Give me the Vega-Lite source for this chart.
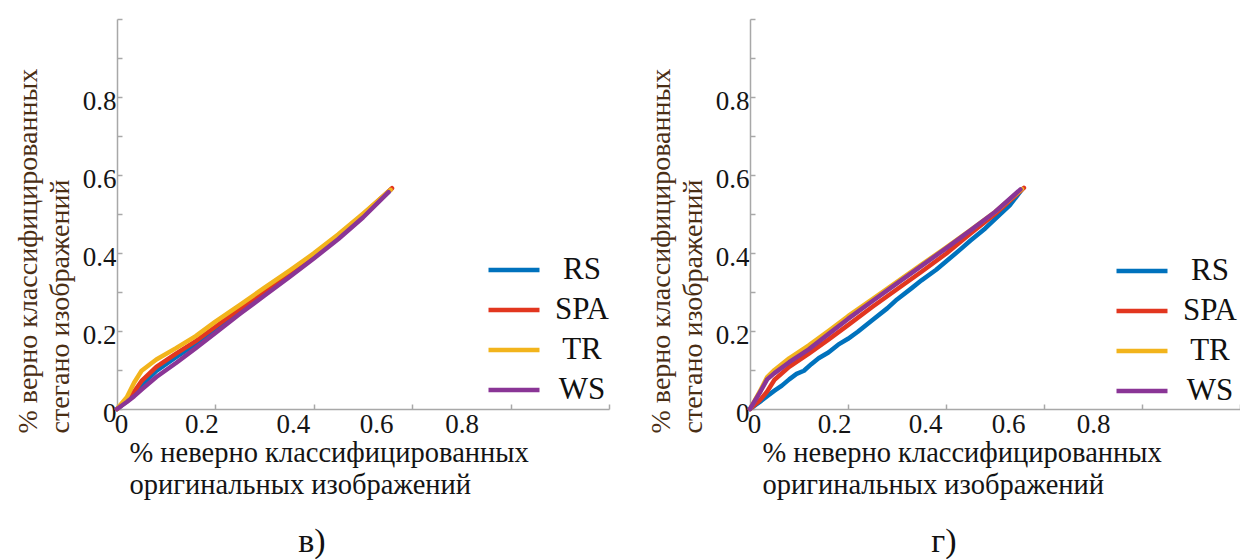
{
  "$schema": "https://vega.github.io/schema/vega-lite/v6.json",
  "background": "white",
  "padding": {"left": 13, "top": 18, "right": 0, "bottom": 0},
  "spacing": 36,
  "datasets": {
    "roc": [
      {"panel": "в", "method": "RS", "fpr": 0, "tpr": 0},
      {"panel": "в", "method": "RS", "fpr": 0.02, "tpr": 0.02},
      {"panel": "в", "method": "RS", "fpr": 0.035, "tpr": 0.04},
      {"panel": "в", "method": "RS", "fpr": 0.05, "tpr": 0.062},
      {"panel": "в", "method": "RS", "fpr": 0.08, "tpr": 0.098},
      {"panel": "в", "method": "RS", "fpr": 0.12, "tpr": 0.133},
      {"panel": "в", "method": "RS", "fpr": 0.16, "tpr": 0.167},
      {"panel": "в", "method": "RS", "fpr": 0.2, "tpr": 0.205},
      {"panel": "в", "method": "RS", "fpr": 0.25, "tpr": 0.252},
      {"panel": "в", "method": "RS", "fpr": 0.3, "tpr": 0.298},
      {"panel": "в", "method": "RS", "fpr": 0.35, "tpr": 0.344},
      {"panel": "в", "method": "RS", "fpr": 0.4, "tpr": 0.391},
      {"panel": "в", "method": "RS", "fpr": 0.45, "tpr": 0.441},
      {"panel": "в", "method": "RS", "fpr": 0.5, "tpr": 0.496},
      {"panel": "в", "method": "RS", "fpr": 0.556, "tpr": 0.562},

      {"panel": "в", "method": "SPA", "fpr": 0, "tpr": 0},
      {"panel": "в", "method": "SPA", "fpr": 0.02, "tpr": 0.022},
      {"panel": "в", "method": "SPA", "fpr": 0.035, "tpr": 0.045},
      {"panel": "в", "method": "SPA", "fpr": 0.05, "tpr": 0.072},
      {"panel": "в", "method": "SPA", "fpr": 0.08, "tpr": 0.108},
      {"panel": "в", "method": "SPA", "fpr": 0.12, "tpr": 0.142},
      {"panel": "в", "method": "SPA", "fpr": 0.16, "tpr": 0.174},
      {"panel": "в", "method": "SPA", "fpr": 0.2, "tpr": 0.211},
      {"panel": "в", "method": "SPA", "fpr": 0.25, "tpr": 0.257},
      {"panel": "в", "method": "SPA", "fpr": 0.3, "tpr": 0.302},
      {"panel": "в", "method": "SPA", "fpr": 0.35, "tpr": 0.347},
      {"panel": "в", "method": "SPA", "fpr": 0.4, "tpr": 0.393},
      {"panel": "в", "method": "SPA", "fpr": 0.45, "tpr": 0.444},
      {"panel": "в", "method": "SPA", "fpr": 0.5, "tpr": 0.498},
      {"panel": "в", "method": "SPA", "fpr": 0.559, "tpr": 0.566},

      {"panel": "в", "method": "TR", "fpr": 0, "tpr": 0},
      {"panel": "в", "method": "TR", "fpr": 0.02, "tpr": 0.03},
      {"panel": "в", "method": "TR", "fpr": 0.035, "tpr": 0.068},
      {"panel": "в", "method": "TR", "fpr": 0.05, "tpr": 0.098},
      {"panel": "в", "method": "TR", "fpr": 0.08, "tpr": 0.127},
      {"panel": "в", "method": "TR", "fpr": 0.12, "tpr": 0.156},
      {"panel": "в", "method": "TR", "fpr": 0.16, "tpr": 0.187},
      {"panel": "в", "method": "TR", "fpr": 0.2, "tpr": 0.224},
      {"panel": "в", "method": "TR", "fpr": 0.25, "tpr": 0.267},
      {"panel": "в", "method": "TR", "fpr": 0.3, "tpr": 0.311},
      {"panel": "в", "method": "TR", "fpr": 0.35, "tpr": 0.354},
      {"panel": "в", "method": "TR", "fpr": 0.4, "tpr": 0.399},
      {"panel": "в", "method": "TR", "fpr": 0.45, "tpr": 0.448},
      {"panel": "в", "method": "TR", "fpr": 0.5, "tpr": 0.501},
      {"panel": "в", "method": "TR", "fpr": 0.556, "tpr": 0.562},

      {"panel": "в", "method": "WS", "fpr": 0, "tpr": 0},
      {"panel": "в", "method": "WS", "fpr": 0.02, "tpr": 0.018},
      {"panel": "в", "method": "WS", "fpr": 0.035, "tpr": 0.033},
      {"panel": "в", "method": "WS", "fpr": 0.05, "tpr": 0.05},
      {"panel": "в", "method": "WS", "fpr": 0.08, "tpr": 0.082},
      {"panel": "в", "method": "WS", "fpr": 0.12, "tpr": 0.118},
      {"panel": "в", "method": "WS", "fpr": 0.16, "tpr": 0.156},
      {"panel": "в", "method": "WS", "fpr": 0.2, "tpr": 0.195},
      {"panel": "в", "method": "WS", "fpr": 0.25, "tpr": 0.244},
      {"panel": "в", "method": "WS", "fpr": 0.3, "tpr": 0.291},
      {"panel": "в", "method": "WS", "fpr": 0.35, "tpr": 0.338},
      {"panel": "в", "method": "WS", "fpr": 0.4, "tpr": 0.386},
      {"panel": "в", "method": "WS", "fpr": 0.45, "tpr": 0.436},
      {"panel": "в", "method": "WS", "fpr": 0.5, "tpr": 0.491},
      {"panel": "в", "method": "WS", "fpr": 0.552, "tpr": 0.556},

      {"panel": "г", "method": "RS", "fpr": 0, "tpr": 0},
      {"panel": "г", "method": "RS", "fpr": 0.02, "tpr": 0.018},
      {"panel": "г", "method": "RS", "fpr": 0.035, "tpr": 0.033},
      {"panel": "г", "method": "RS", "fpr": 0.05, "tpr": 0.047},
      {"panel": "г", "method": "RS", "fpr": 0.065, "tpr": 0.06},
      {"panel": "г", "method": "RS", "fpr": 0.08, "tpr": 0.076},
      {"panel": "г", "method": "RS", "fpr": 0.095, "tpr": 0.09},
      {"panel": "г", "method": "RS", "fpr": 0.11, "tpr": 0.098},
      {"panel": "г", "method": "RS", "fpr": 0.125, "tpr": 0.115},
      {"panel": "г", "method": "RS", "fpr": 0.14, "tpr": 0.13},
      {"panel": "г", "method": "RS", "fpr": 0.16, "tpr": 0.145},
      {"panel": "г", "method": "RS", "fpr": 0.18, "tpr": 0.165},
      {"panel": "г", "method": "RS", "fpr": 0.2, "tpr": 0.18},
      {"panel": "г", "method": "RS", "fpr": 0.22, "tpr": 0.198},
      {"panel": "г", "method": "RS", "fpr": 0.25, "tpr": 0.228},
      {"panel": "г", "method": "RS", "fpr": 0.28, "tpr": 0.258},
      {"panel": "г", "method": "RS", "fpr": 0.3, "tpr": 0.281},
      {"panel": "г", "method": "RS", "fpr": 0.33, "tpr": 0.31},
      {"panel": "г", "method": "RS", "fpr": 0.35, "tpr": 0.33},
      {"panel": "г", "method": "RS", "fpr": 0.38, "tpr": 0.357},
      {"panel": "г", "method": "RS", "fpr": 0.4, "tpr": 0.378},
      {"panel": "г", "method": "RS", "fpr": 0.43, "tpr": 0.41},
      {"panel": "г", "method": "RS", "fpr": 0.45, "tpr": 0.432},
      {"panel": "г", "method": "RS", "fpr": 0.48, "tpr": 0.463},
      {"panel": "г", "method": "RS", "fpr": 0.5, "tpr": 0.487},
      {"panel": "г", "method": "RS", "fpr": 0.53, "tpr": 0.522},
      {"panel": "г", "method": "RS", "fpr": 0.555, "tpr": 0.563},

      {"panel": "г", "method": "SPA", "fpr": 0, "tpr": 0},
      {"panel": "г", "method": "SPA", "fpr": 0.02, "tpr": 0.022},
      {"panel": "г", "method": "SPA", "fpr": 0.035, "tpr": 0.045},
      {"panel": "г", "method": "SPA", "fpr": 0.05, "tpr": 0.075},
      {"panel": "г", "method": "SPA", "fpr": 0.08, "tpr": 0.108},
      {"panel": "г", "method": "SPA", "fpr": 0.12, "tpr": 0.142},
      {"panel": "г", "method": "SPA", "fpr": 0.16, "tpr": 0.178},
      {"panel": "г", "method": "SPA", "fpr": 0.2, "tpr": 0.215},
      {"panel": "г", "method": "SPA", "fpr": 0.25, "tpr": 0.262},
      {"panel": "г", "method": "SPA", "fpr": 0.3, "tpr": 0.307},
      {"panel": "г", "method": "SPA", "fpr": 0.35, "tpr": 0.352},
      {"panel": "г", "method": "SPA", "fpr": 0.4, "tpr": 0.398},
      {"panel": "г", "method": "SPA", "fpr": 0.45, "tpr": 0.45},
      {"panel": "г", "method": "SPA", "fpr": 0.5, "tpr": 0.5},
      {"panel": "г", "method": "SPA", "fpr": 0.559, "tpr": 0.567},

      {"panel": "г", "method": "TR", "fpr": 0, "tpr": 0},
      {"panel": "г", "method": "TR", "fpr": 0.02, "tpr": 0.045},
      {"panel": "г", "method": "TR", "fpr": 0.035, "tpr": 0.082},
      {"panel": "г", "method": "TR", "fpr": 0.05, "tpr": 0.1},
      {"panel": "г", "method": "TR", "fpr": 0.08, "tpr": 0.13},
      {"panel": "г", "method": "TR", "fpr": 0.12, "tpr": 0.163},
      {"panel": "г", "method": "TR", "fpr": 0.16, "tpr": 0.2},
      {"panel": "г", "method": "TR", "fpr": 0.2, "tpr": 0.238},
      {"panel": "г", "method": "TR", "fpr": 0.25, "tpr": 0.282},
      {"panel": "г", "method": "TR", "fpr": 0.3, "tpr": 0.326},
      {"panel": "г", "method": "TR", "fpr": 0.35, "tpr": 0.37},
      {"panel": "г", "method": "TR", "fpr": 0.4, "tpr": 0.414},
      {"panel": "г", "method": "TR", "fpr": 0.45, "tpr": 0.459},
      {"panel": "г", "method": "TR", "fpr": 0.5, "tpr": 0.505},
      {"panel": "г", "method": "TR", "fpr": 0.555, "tpr": 0.564},

      {"panel": "г", "method": "WS", "fpr": 0, "tpr": 0},
      {"panel": "г", "method": "WS", "fpr": 0.02, "tpr": 0.042},
      {"panel": "г", "method": "WS", "fpr": 0.035, "tpr": 0.076},
      {"panel": "г", "method": "WS", "fpr": 0.05, "tpr": 0.092},
      {"panel": "г", "method": "WS", "fpr": 0.08, "tpr": 0.12},
      {"panel": "г", "method": "WS", "fpr": 0.12, "tpr": 0.153},
      {"panel": "г", "method": "WS", "fpr": 0.16, "tpr": 0.192},
      {"panel": "г", "method": "WS", "fpr": 0.2, "tpr": 0.231},
      {"panel": "г", "method": "WS", "fpr": 0.25, "tpr": 0.277},
      {"panel": "г", "method": "WS", "fpr": 0.3, "tpr": 0.322},
      {"panel": "г", "method": "WS", "fpr": 0.35, "tpr": 0.367},
      {"panel": "г", "method": "WS", "fpr": 0.4, "tpr": 0.412},
      {"panel": "г", "method": "WS", "fpr": 0.45, "tpr": 0.458},
      {"panel": "г", "method": "WS", "fpr": 0.5, "tpr": 0.505},
      {"panel": "г", "method": "WS", "fpr": 0.552, "tpr": 0.563}
    ]
  },
  "resolve": {"legend": {"color": "independent"}},
  "hconcat": [
    {
      "width": 492,
      "height": 390,
      "data": {"name": "roc"},
      "transform": [{"filter": "datum.panel === 'в'"}],
      "title": {"text": "в)", "font": "Liberation Serif", "fontSize": 34, "fontWeight": "normal", "color": "#111111"},
      "mark": {"type": "line", "strokeWidth": 4.5, "strokeCap": "round", "strokeJoin": "round"},
      "encoding": {
        "x": {
          "field": "fpr", "type": "quantitative",
          "scale": {"domain": [0, 1], "nice": false},
          "axis": {
            "values": [0, 0.2, 0.4, 0.6, 0.8, 1],
            "labelExpr": "datum.value > 0.9 ? '' : datum.value === 0 ? '0' : format(datum.value, '.1f')",
            "labelFont": "Liberation Serif", "labelFontSize": 27, "labelColor": "#151515",
            "titleFont": "Liberation Serif", "titleFontSize": 28.5, "titleFontWeight": "normal",
            "labelOffset": {"condition": [
              {"test": "datum.value === 0", "value": 4},
              {"test": "datum.value === 0.2", "value": -14},
              {"test": "datum.value === 0.4", "value": -21},
              {"test": "datum.value === 0.6", "value": -36},
              {"test": "datum.value === 0.8", "value": -49}
            ], "value": 0},
            "title": ["% неверно классифицированных", "оригинальных изображений"]
          }
        },
        "y": {
          "field": "tpr", "type": "quantitative",
          "scale": {"domain": [0, 1], "nice": false},
          "axis": {
            "values": [0, 0.1, 0.2, 0.3, 0.4, 0.5, 0.6, 0.7, 0.8, 0.9, 1],
            "labelExpr": "datum.value === 0 ? '0' : (datum.value === 0.2 || datum.value === 0.4 || datum.value === 0.6 || datum.value === 0.8) ? format(datum.value, '.1f') : ''",
            "labelFont": "Liberation Serif", "labelFontSize": 27, "labelColor": "#151515",
            "titleFont": "Liberation Serif", "titleFontSize": 28, "titleFontWeight": "normal",
            "title": ["% верно классифицированных", "стегано изображений"]
          }
        },
        "color": {
          "field": "method", "type": "nominal",
          "scale": {"domain": ["RS", "SPA", "TR", "WS"], "range": ["#0072BD", "#E2361F", "#F2B41C", "#8A3596"]},
          "legend": {
            "orient": "none", "legendX": 369, "legendY": 232, "title": null,
            "labelFont": "Liberation Serif", "labelFontSize": 31, "labelColor": "#111111",
            "clipHeight": 38, "rowPadding": 2
          }
        },
        "order": {"field": "fpr", "type": "quantitative"}
      }
    },
    {
      "width": 490,
      "height": 390,
      "data": {"name": "roc"},
      "transform": [{"filter": "datum.panel === 'г'"}],
      "title": {"text": "г)", "font": "Liberation Serif", "fontSize": 34, "fontWeight": "normal", "color": "#111111"},
      "mark": {"type": "line", "strokeWidth": 4.5, "strokeCap": "round", "strokeJoin": "round"},
      "encoding": {
        "x": {
          "field": "fpr", "type": "quantitative",
          "scale": {"domain": [0, 1], "nice": false},
          "axis": {
            "values": [0, 0.2, 0.4, 0.6, 0.8, 1],
            "labelExpr": "datum.value > 0.9 ? '' : datum.value === 0 ? '0' : format(datum.value, '.1f')",
            "labelFont": "Liberation Serif", "labelFontSize": 27, "labelColor": "#151515",
            "titleFont": "Liberation Serif", "titleFontSize": 28.5, "titleFontWeight": "normal",
            "labelOffset": {"condition": [
              {"test": "datum.value === 0", "value": 4},
              {"test": "datum.value === 0.2", "value": -14},
              {"test": "datum.value === 0.4", "value": -21},
              {"test": "datum.value === 0.6", "value": -36},
              {"test": "datum.value === 0.8", "value": -49}
            ], "value": 0},
            "title": ["% неверно классифицированных", "оригинальных изображений"]
          }
        },
        "y": {
          "field": "tpr", "type": "quantitative",
          "scale": {"domain": [0, 1], "nice": false},
          "axis": {
            "values": [0, 0.1, 0.2, 0.3, 0.4, 0.5, 0.6, 0.7, 0.8, 0.9, 1],
            "labelExpr": "datum.value === 0 ? '0' : (datum.value === 0.2 || datum.value === 0.4 || datum.value === 0.6 || datum.value === 0.8) ? format(datum.value, '.1f') : ''",
            "labelFont": "Liberation Serif", "labelFontSize": 27, "labelColor": "#151515",
            "titleFont": "Liberation Serif", "titleFontSize": 28, "titleFontWeight": "normal",
            "title": ["% верно классифицированных", "стегано изображений"]
          }
        },
        "color": {
          "field": "method", "type": "nominal",
          "scale": {"domain": ["RS", "SPA", "TR", "WS"], "range": ["#0072BD", "#E2361F", "#F2B41C", "#8A3596"]},
          "legend": {
            "orient": "none", "legendX": 364, "legendY": 233, "title": null,
            "labelFont": "Liberation Serif", "labelFontSize": 31, "labelColor": "#111111",
            "clipHeight": 38, "rowPadding": 2
          }
        },
        "order": {"field": "fpr", "type": "quantitative"}
      }
    }
  ],
  "config": {
    "view": {"stroke": null},
    "title": {"orient": "bottom", "anchor": "middle", "frame": "bounds", "offset": 26},
    "axis": {
      "grid": false,
      "domainColor": "#a8a8a8", "domainWidth": 1.5,
      "tickColor": "#a8a8a8", "tickWidth": 1.5, "tickSize": -5,
      "titleLineHeight": 32
    },
    "axisX": {
      "labelFlush": false, "labelPadding": 7, "labelBaseline": "top",
      "titleAnchor": "start", "titleAlign": "left", "titleBaseline": "alphabetic",
      "titleX": 12, "titleY": 52, "titleColor": "#141414"
    },
    "axisY": {
      "labelPadding": 6, "labelOffset": 4,
      "titleAngle": 270, "titleAlign": "left", "titleBaseline": "alphabetic",
      "titleX": -81, "titleY": 414, "titleColor": "#4a2e14"
    },
    "legend": {
      "symbolType": "stroke", "symbolSize": 2600, "symbolStrokeWidth": 4.5,
      "labelAlign": "center", "labelOffset": 40
    }
  }
}
